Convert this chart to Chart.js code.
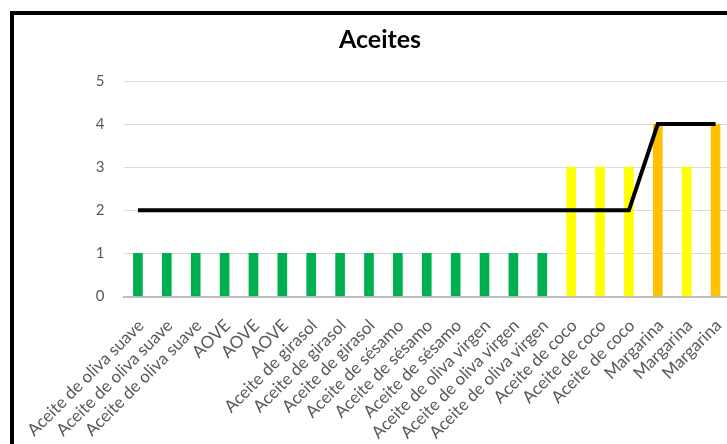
<!DOCTYPE html>
<html>
<head>
<meta charset="utf-8">
<script src="https://cdn.jsdelivr.net/npm/chart.js@4"></script>
<style>
  html, body { margin: 0; padding: 0; width: 727px; height: 444px; overflow: hidden; background: #fff; }
  #frame { position: absolute; left: 10px; top: 11px; width: 800px; height: 500px; border: 4px solid #000; box-sizing: border-box; }
  #myChart { position: absolute; left: 0; top: 0; }
</style>
</head>
<body>
<div id="frame"></div>
<canvas id="myChart" width="760" height="444"></canvas>
<script>
// categories (three samples of each oil)
const labels = [
  "Aceite de oliva suave", "Aceite de oliva suave", "Aceite de oliva suave",
  "AOVE", "AOVE", "AOVE",
  "Aceite de girasol", "Aceite de girasol", "Aceite de girasol",
  "Aceite de sésamo", "Aceite de sésamo", "Aceite de sésamo",
  "Aceite de oliva virgen", "Aceite de oliva virgen", "Aceite de oliva virgen",
  "Aceite de coco", "Aceite de coco", "Aceite de coco",
  "Margarina", "Margarina", "Margarina"
];
const barValues = [1, 1, 1, 1, 1, 1, 1, 1, 1, 1, 1, 1, 1, 1, 1, 3, 3, 3, 4, 3, 4];
const lineValues = [2, 2, 2, 2, 2, 2, 2, 2, 2, 2, 2, 2, 2, 2, 2, 2, 2, 2, 4, 4, 4];
const yTicks = [0, 1, 2, 3, 4, 5];

const green = "#00B050", yellow = "#FFFF00", orange = "#FFC000";
const barColors = barValues.map(function (v) {
  if (v == 1) return green;
  if (v == 3) return yellow;
  return orange;
});

let ctx = document.getElementById("myChart").getContext("2d");
let aceitesChart = new Chart(ctx, {
  type: "bar",
  data: {
    labels: labels,
    datasets: [{
      type: "line",
      data: lineValues,
      borderColor: "#000",
      borderWidth: 4,
      pointRadius: 0,
      tension: 0,
      order: 0
    }, {
      data: barValues,
      backgroundColor: barColors,
      barThickness: 9,
      order: 1
    }]
  },
  options: {
    responsive: false,
    animation: false,
    // left/right padding keep the title centred at x=380 while the plot ends at 730
    layout: { padding: { left: 30, right: 30, top: 0, bottom: 0 } },
    plugins: {
      legend: { display: false },
      tooltip: { enabled: false },
      title: {
        display: true,
        text: "Aceites",
        color: "#000",
        font: { family: "Lato", size: 25, weight: "bold", lineHeight: 1.2 },
        padding: { top: 25, bottom: 26 }
      }
    },
    scales: {
      x: {
        grid: { display: false, drawTicks: false },
        border: { color: "#bfbfbf", width: 2 },
        ticks: {
          color: "#595959",
          font: { family: "Lato", size: 17 },
          maxRotation: 45,
          minRotation: 45,
          autoSkip: false,
          padding: 19,
          labelOffset: 3
        },
        afterFit: function (s) { s.height = 444 - 296.5; }
      },
      y: {
        min: 0,
        max: 5,
        afterBuildTicks: function (s) { s.ticks = yTicks.map(function (v) { return { value: v }; }); },
        grid: { color: "#d9d9d9", drawTicks: false },
        border: { display: false },
        ticks: {
          color: "#595959",
          font: { family: "Lato", size: 15 },
          padding: 19
        },
        afterFit: function (s) { s.width = 93.5; }
      }
    }
  }
});
</script>
</body>
</html>
